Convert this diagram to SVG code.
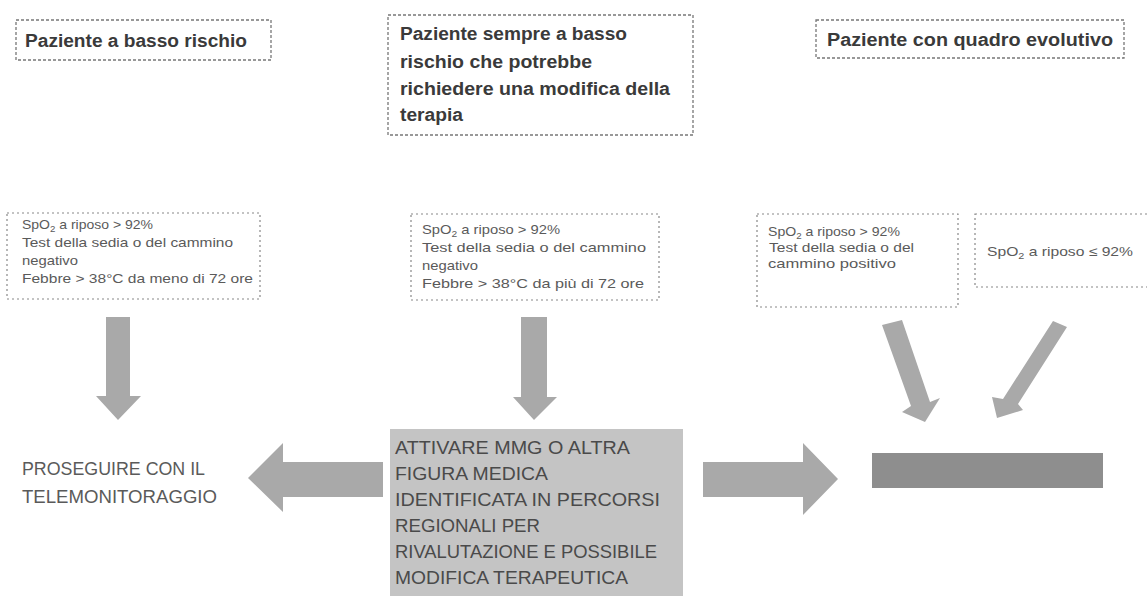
<svg xmlns="http://www.w3.org/2000/svg" width="1147" height="596" viewBox="0 0 1147 596">
<style>
.hdr{fill:none;stroke:#777;stroke-width:1.3;stroke-dasharray:3 2}
.box{fill:none;stroke:#888;stroke-width:1.2;stroke-dasharray:2 3}
.ht{font-family:"Liberation Sans",Arial,sans-serif;font-size:18px;font-weight:bold;fill:#3a3a3a}
.st{font-family:"Liberation Sans",Arial,sans-serif;font-size:13px;fill:#5a5a5a}
.bt{font-family:"Liberation Sans",Arial,sans-serif;font-size:17.5px;fill:#4a4a4a}
.ct{font-family:"Liberation Sans",Arial,sans-serif;font-size:17.5px;fill:#5a5a5a}
.arr{fill:#a9a9a9}
.sub{font-size:9px}
</style>
<rect width="1147" height="596" fill="#ffffff"/>

<g id="hdr-low">
<rect class="hdr" x="16" y="20" width="255" height="40"/>
<text class="ht" x="25" y="47" textLength="222" lengthAdjust="spacingAndGlyphs">Paziente a basso rischio</text>
</g>

<g id="hdr-mid">
<rect class="hdr" x="388" y="15" width="305" height="120"/>
<text class="ht" x="400" y="40" textLength="227" lengthAdjust="spacingAndGlyphs">Paziente sempre a basso</text>
<text class="ht" x="400" y="68" textLength="192" lengthAdjust="spacingAndGlyphs">rischio che potrebbe</text>
<text class="ht" x="400" y="95" textLength="270" lengthAdjust="spacingAndGlyphs">richiedere una modifica della</text>
<text class="ht" x="400" y="121" textLength="63" lengthAdjust="spacingAndGlyphs">terapia</text>
</g>

<g id="hdr-evo">
<rect class="hdr" x="816" y="20" width="308" height="38"/>
<text class="ht" x="827" y="46" textLength="286" lengthAdjust="spacingAndGlyphs">Paziente con quadro evolutivo</text>
</g>

<g id="crit-low">
<rect class="box" x="7" y="213" width="253" height="86"/>
<text class="st" x="22" y="229" textLength="131" lengthAdjust="spacingAndGlyphs">SpO<tspan class="sub" dy="3">2</tspan><tspan dy="-3"> a riposo &gt; 92%</tspan></text>
<text class="st" x="22" y="247" textLength="211" lengthAdjust="spacingAndGlyphs">Test della sedia o del cammino</text>
<text class="st" x="22" y="265" textLength="56" lengthAdjust="spacingAndGlyphs">negativo</text>
<text class="st" x="22" y="283" textLength="231" lengthAdjust="spacingAndGlyphs">Febbre &gt; 38°C da meno di 72 ore</text>
</g>

<g id="crit-mid">
<rect class="box" x="411" y="214" width="248" height="86"/>
<text class="st" x="422" y="234" textLength="138" lengthAdjust="spacingAndGlyphs">SpO<tspan class="sub" dy="3">2</tspan><tspan dy="-3"> a riposo &gt; 92%</tspan></text>
<text class="st" x="422" y="252" textLength="224" lengthAdjust="spacingAndGlyphs">Test della sedia o del cammino</text>
<text class="st" x="422" y="270" textLength="56" lengthAdjust="spacingAndGlyphs">negativo</text>
<text class="st" x="422" y="288" textLength="222" lengthAdjust="spacingAndGlyphs">Febbre &gt; 38°C da più di 72 ore</text>
</g>

<g id="crit-evo1">
<rect class="box" x="757" y="214" width="201" height="93"/>
<text class="st" x="768" y="236" textLength="132" lengthAdjust="spacingAndGlyphs">SpO<tspan class="sub" dy="3">2</tspan><tspan dy="-3"> a riposo &gt; 92%</tspan></text>
<text class="st" x="769" y="252" textLength="145" lengthAdjust="spacingAndGlyphs">Test della sedia o del</text>
<text class="st" x="768" y="268" textLength="128" lengthAdjust="spacingAndGlyphs">cammino positivo</text>
</g>

<g id="crit-evo2">
<rect class="box" x="975" y="214" width="180" height="73"/>
<text class="st" x="987" y="256" textLength="146" lengthAdjust="spacingAndGlyphs">SpO<tspan class="sub" dy="3">2</tspan><tspan dy="-3"> a riposo ≤ 92%</tspan></text>
</g>

<g id="continue">
<text class="ct" x="22" y="475" textLength="183" lengthAdjust="spacingAndGlyphs">PROSEGUIRE CON IL</text>
<text class="ct" x="22" y="503" textLength="195" lengthAdjust="spacingAndGlyphs">TELEMONITORAGGIO</text>
</g>

<g id="activate">
<rect x="390" y="429" width="293" height="167" fill="#c4c4c4"/>
<text class="bt" x="395" y="454" textLength="235" lengthAdjust="spacingAndGlyphs">ATTIVARE MMG O ALTRA</text>
<text class="bt" x="395" y="480" textLength="153" lengthAdjust="spacingAndGlyphs">FIGURA MEDICA</text>
<text class="bt" x="395" y="506" textLength="265" lengthAdjust="spacingAndGlyphs">IDENTIFICATA IN PERCORSI</text>
<text class="bt" x="395" y="532" textLength="145" lengthAdjust="spacingAndGlyphs">REGIONALI PER</text>
<text class="bt" x="395" y="558" textLength="262" lengthAdjust="spacingAndGlyphs">RIVALUTAZIONE E POSSIBILE</text>
<text class="bt" x="395" y="584" textLength="233" lengthAdjust="spacingAndGlyphs">MODIFICA TERAPEUTICA</text>
</g>

<g id="hospital">
<rect x="872" y="453" width="231" height="35" fill="#8e8e8e"/>
</g>

<g id="connectors">
<polygon class="arr" points="106,317 130,317 130,396 141,396 118,420 96,396 106,396"/>
<polygon class="arr" points="521,317 547,317 547,397 557,397 534,420 513,397 521,397"/>
<polygon class="arr" points="383,462 283,462 283,443 248,478 283,512 283,497 383,497"/>
<polygon class="arr" points="703,462 803,462 803,443 838,479 803,515 803,497 703,497"/>
<polygon class="arr" points="882,325 902,320 930,402 940,398 925,422 902,412 911,406"/>
<polygon class="arr" points="1053,321 1067,327 1018,404 1023,410 997,418 992,397 1003,399"/>
</g>
</svg>
